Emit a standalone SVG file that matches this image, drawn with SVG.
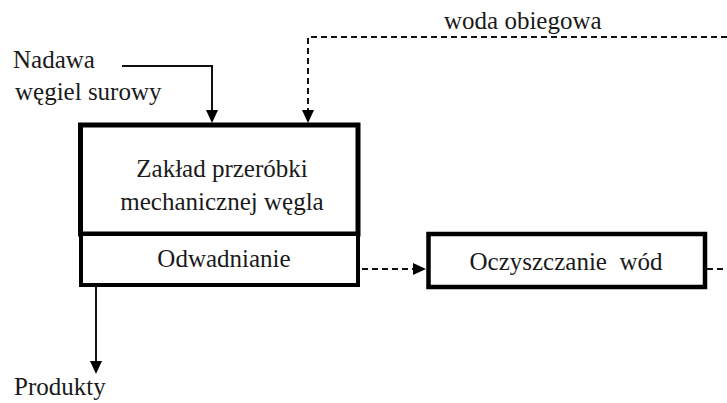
<svg xmlns="http://www.w3.org/2000/svg" width="727" height="403" viewBox="0 0 727 403">
<style>
text{font-family:'Liberation Serif','Times New Roman','DejaVu Serif',serif;font-size:25px;fill:#1a1a1a}
.box{fill:#fff;stroke:#000}
.ln{fill:none;stroke:#111;stroke-width:2}
.dash{stroke-dasharray:6 4}
</style>
<defs>
<marker id="ah" markerUnits="userSpaceOnUse" viewBox="0 0 13 12" refX="0" refY="6" markerWidth="13" markerHeight="12" orient="auto">
<path d="M0,0 L13,6 L0,12 Z" fill="#000"/>
</marker>
</defs>
<rect width="727" height="403" fill="#fff"/>
<g id="connectors">
<polyline class="ln" points="122,66 212,66 212,110" marker-end="url(#ah)"/>
<polyline class="ln dash" points="727,37 308,37 308,110" marker-end="url(#ah)"/>
<line class="ln" x1="96" y1="287" x2="96" y2="361" marker-end="url(#ah)"/>
<line class="ln dash" x1="362" y1="269" x2="413" y2="269" marker-end="url(#ah)"/>
<line class="ln dash" x1="707" y1="269" x2="727" y2="269"/>
</g>
<g id="zaklad">
<rect class="box" x="80.5" y="125" width="277.5" height="109" stroke-width="5"/>
<text x="222" y="177" text-anchor="middle">Zakład przeróbki</text>
<text x="222" y="210" text-anchor="middle">mechanicznej węgla</text>
</g>
<g id="odwadnianie">
<rect class="box" x="81" y="234" width="277" height="51" stroke-width="4"/>
<text x="224" y="267" text-anchor="middle">Odwadnianie</text>
</g>
<g id="oczyszczanie">
<rect class="box" x="428.5" y="234" width="276.5" height="53" stroke-width="4.5"/>
<text x="566" y="270" text-anchor="middle">Oczyszczanie&#160; wód</text>
</g>
<g id="labels">
<text x="13" y="68">Nadawa</text>
<text x="15" y="100">węgiel surowy</text>
<text x="444" y="29">woda obiegowa</text>
<text x="14" y="395">Produkty</text>
</g>
</svg>
